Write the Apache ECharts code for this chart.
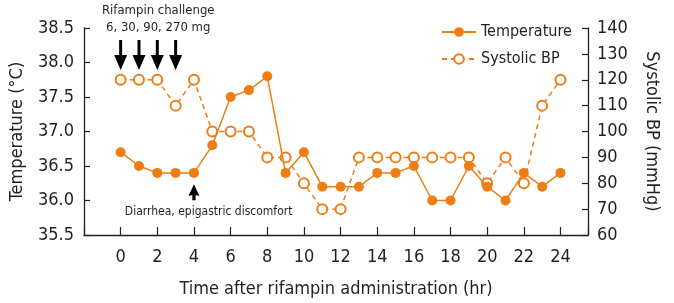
<!DOCTYPE html>
<html>
<head>
<meta charset="utf-8">
<script src="https://cdn.jsdelivr.net/npm/echarts@6/dist/echarts.min.js"></script>
<style>
  html, body { margin: 0; padding: 0; background: #fff; }
  #chart { width: 674px; height: 303px; }
</style>
</head>
<body>
<div id="chart"></div>
<script>
// time points (hr)
const hours = [0, 1, 2, 3, 4, 5, 6, 7, 8, 9, 10, 11, 12, 13, 14, 15, 16, 17, 18, 19, 20, 21, 22, 23, 24];
// body temperature (°C)
const temperature = [36.7, 36.5, 36.4, 36.4, 36.4, 36.8, 37.5, 37.6, 37.8, 36.4, 36.7, 36.2, 36.2, 36.2, 36.4, 36.4, 36.5, 36.0, 36.0, 36.5, 36.2, 36.0, 36.4, 36.2, 36.4];
// systolic blood pressure (mmHg)
const systolicBP = [120, 120, 120, 110, 120, 100, 100, 100, 90, 90, 80, 70, 70, 90, 90, 90, 90, 90, 90, 90, 80, 90, 80, 110, 120];
// rifampin doses given at these hours
const doseHours = [0, 1, 2, 3];
const symptomHour = 4;

const ORANGE = '#EE7D14';
const INK = '#231F20';
const FONT = "'DejaVu Sans Condensed', 'Liberation Sans Narrow', sans-serif";

const chart = echarts.init(document.getElementById('chart'));

const downArrow = 'path://M5,0 L8,0 L8,15 L13,15 L6.5,30 L0,15 L5,15 Z';
const upArrow = 'path://M5,0 L10,11 L6.5,10 L6.5,15 L3.5,15 L3.5,10 L0,11 Z';

const option = {
  animation: false,
  textStyle: { fontFamily: FONT, color: INK },
  grid: { left: 82, right: 86, top: 28, bottom: 65 },
  legend: {
    data: ['Temperature', 'Systolic BP'],
    orient: 'vertical',
    left: 436,
    top: 19,
    itemWidth: 34,
    itemHeight: 12,
    itemGap: 11,
    textStyle: { fontFamily: FONT, fontSize: 16, color: INK }
  },
  xAxis: {
    type: 'value',
    min: -2,
    max: 25.5,
    interval: 2,
    name: 'Time after rifampin administration (hr)',
    nameLocation: 'middle',
    nameGap: 45,
    nameTextStyle: { fontFamily: FONT, fontSize: 18, color: INK },
    splitLine: { show: false },
    axisLine: { lineStyle: { color: INK, width: 1.3 } },
    axisTick: { inside: true, length: 8, lineStyle: { color: INK, width: 1.2 } },
    axisLabel: {
      fontFamily: FONT, fontSize: 18, color: INK, margin: 13,
      formatter: v => (v < 0 || v > 24) ? '' : String(v)
    }
  },
  yAxis: [
    {
      type: 'value',
      min: 35.5,
      max: 38.5,
      interval: 0.5,
      name: 'Temperature (°C)',
      nameLocation: 'middle',
      nameGap: 58,
      nameTextStyle: { fontFamily: FONT, fontSize: 18, color: INK },
      splitLine: { show: false },
      axisLine: { show: true, onZero: false, lineStyle: { color: INK, width: 1.3 } },
      axisTick: { show: true, inside: true, length: 6, lineStyle: { color: INK, width: 1.2 } },
      axisLabel: { fontFamily: FONT, fontSize: 18, color: INK, margin: 10, formatter: v => v.toFixed(1) }
    },
    {
      type: 'value',
      position: 'right',
      min: 60,
      max: 140,
      interval: 10,
      name: 'Systolic BP (mmHg)',
      nameLocation: 'middle',
      nameRotate: -90,
      nameGap: 55,
      nameTextStyle: { fontFamily: FONT, fontSize: 18, color: INK },
      splitLine: { show: false },
      axisLine: { show: true, onZero: false, lineStyle: { color: INK, width: 1.3 } },
      axisTick: { show: true, inside: true, length: 6, lineStyle: { color: INK, width: 1.2 } },
      axisLabel: { fontFamily: FONT, fontSize: 18, color: INK, margin: 9 }
    }
  ],
  series: [
    {
      name: 'Systolic BP',
      type: 'line',
      yAxisIndex: 1,
      data: hours.map((h, i) => [h, systolicBP[i]]),
      symbol: 'emptyCircle',
      symbolSize: 10,
      color: ORANGE,
      itemStyle: { color: ORANGE, borderColor: ORANGE, borderWidth: 1.5 },
      lineStyle: { color: ORANGE, width: 1.5, type: [5, 4] },
      z: 2
    },
    {
      name: 'Temperature',
      type: 'line',
      yAxisIndex: 0,
      data: hours.map((h, i) => [h, temperature[i]]),
      symbol: 'circle',
      symbolSize: 10,
      color: ORANGE,
      itemStyle: { color: ORANGE },
      lineStyle: { color: ORANGE, width: 1.5 },
      z: 3,
      markPoint: {
        silent: true,
        label: { show: false },
        itemStyle: { color: '#000' },
        data: doseHours.map(h => ({
          coord: [h, 38.11], symbol: downArrow, symbolSize: [13, 30]
        })).concat([{
          coord: [symptomHour, 36.12], symbol: upArrow, symbolSize: [11, 16]
        }])
      }
    }
  ]
};

chart.setOption(option);

// centre the free-text annotations near their data positions
const p1 = chart.convertToPixel({ xAxisIndex: 0 }, 2.05);
const p2 = chart.convertToPixel({ xAxisIndex: 0 }, symptomHour + 0.8);
chart.setOption({
  graphic: [
    { type: 'text', x: p1, y: 11, style: { text: 'Rifampin challenge', font: "13px " + FONT, fill: INK, align: 'center', verticalAlign: 'middle' } },
    { type: 'text', x: p1, y: 28, style: { text: '6, 30, 90, 270 mg', font: "13px " + FONT, fill: INK, align: 'center', verticalAlign: 'middle' } },
    { type: 'text', x: p2, y: 212, style: { text: 'Diarrhea, epigastric discomfort', font: "12px " + FONT, fill: INK, align: 'center', verticalAlign: 'middle' } }
  ]
});
</script>
</body>
</html>
